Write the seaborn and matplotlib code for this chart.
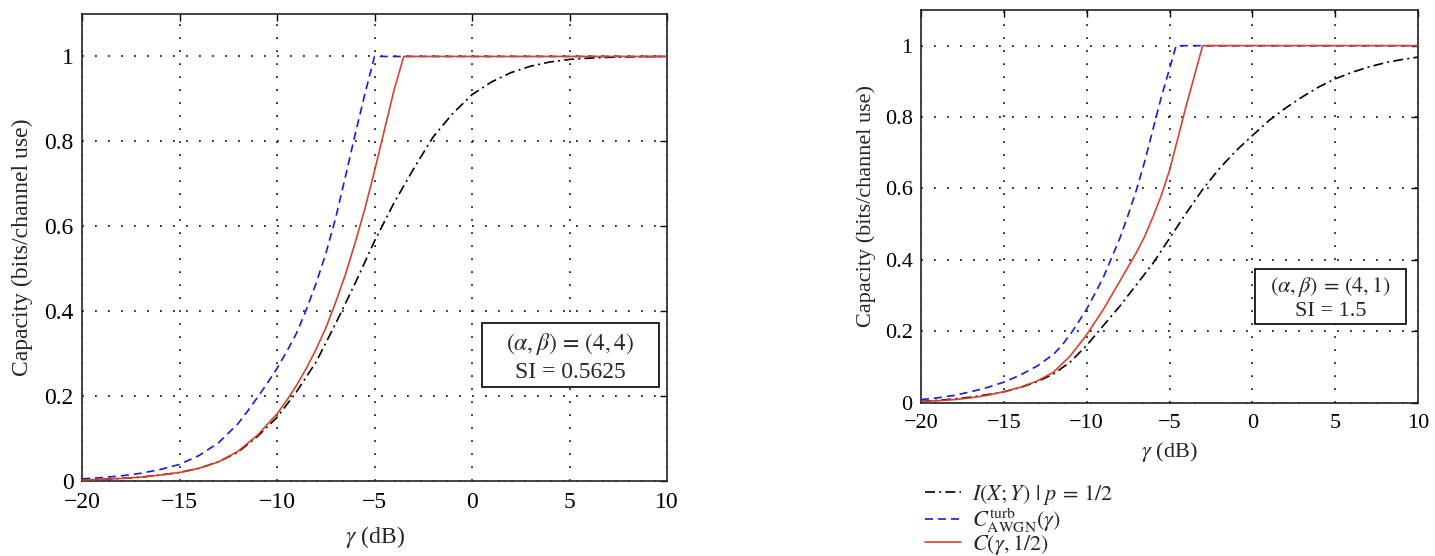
import numpy as np
import pandas as pd
import matplotlib
matplotlib.use('Agg')
import matplotlib.pyplot as plt
from matplotlib.patches import Rectangle
import seaborn as sns

sns.set_theme(style='white')
plt.rcParams['font.family'] = ['Liberation Serif', 'DejaVu Serif']
plt.rcParams['mathtext.fontset'] = 'stix'
plt.rcParams['axes.unicode_minus'] = True

# ---- left panel: (alpha, beta) = (4, 4) ----
left_mi_x = [-20, -19, -18, -17, -16, -15, -14, -13, -12, -11, -10, -9, -8, -7, -6, -5, -4, -3, -2, -1,
             0, 1, 2, 3, 4, 5, 6, 7, 8, 10]
left_mi_y = [0.002, 0.004, 0.006, 0.009, 0.014, 0.02, 0.03, 0.045, 0.068, 0.105, 0.15, 0.21, 0.28, 0.37,
             0.465, 0.565, 0.655, 0.735, 0.81, 0.865, 0.91, 0.94, 0.962, 0.977, 0.987, 0.993, 0.996,
             0.998, 0.999, 1.0]
left_awgn_x = [-20, -19, -18, -17, -16, -15, -14, -13, -12, -11.5, -11, -10.5, -10, -9.5, -9, -8.5, -8,
               -7.5, -7, -6.5, -6, -5.5, -5, 10]
left_awgn_y = [0.005, 0.008, 0.012, 0.018, 0.027, 0.039, 0.06, 0.09, 0.135, 0.165, 0.197, 0.23, 0.265,
               0.305, 0.348, 0.403, 0.465, 0.535, 0.618, 0.715, 0.815, 0.91, 1.0, 1.0]
left_cap_x = [-20, -19, -18, -17, -16, -15, -14, -13, -12, -11, -10, -9.5, -9, -8.5, -8, -7.5, -7, -6.5,
              -6, -5.5, -5, -4.5, -4, -3.5, 10]
left_cap_y = [0.002, 0.004, 0.006, 0.009, 0.014, 0.02, 0.03, 0.045, 0.07, 0.108, 0.158, 0.19, 0.225,
              0.265, 0.31, 0.36, 0.42, 0.485, 0.56, 0.64, 0.73, 0.825, 0.92, 1.0, 1.0]

# ---- right panel: (alpha, beta) = (4, 1) ----
right_mi_x = [-20, -19, -18, -17, -16, -15, -14, -13, -12, -11, -10, -9, -8, -7, -6, -5, -4, -3, -2, -1,
              0, 1, 2, 3, 4, 5, 6, 7, 8, 9, 10]
right_mi_y = [0.003, 0.006, 0.01, 0.015, 0.022, 0.03, 0.042, 0.058, 0.08, 0.113, 0.16, 0.215, 0.27, 0.33,
              0.39, 0.46, 0.53, 0.597, 0.655, 0.705, 0.748, 0.79, 0.825, 0.856, 0.884, 0.907, 0.925,
              0.94, 0.952, 0.961, 0.968]
right_awgn_x = [-20, -19, -18, -17, -16, -15, -14, -13, -12, -11.5, -11, -10.5, -10, -9.5, -9, -8.5, -8,
                -7.5, -7, -6.5, -6, -5.5, -5, -4.6, 10]
right_awgn_y = [0.008, 0.013, 0.02, 0.03, 0.042, 0.057, 0.077, 0.102, 0.135, 0.16, 0.19, 0.225, 0.262,
                0.305, 0.35, 0.405, 0.46, 0.525, 0.595, 0.675, 0.765, 0.855, 0.935, 1.0, 1.0]
right_cap_x = [-20, -19, -18, -17, -16, -15, -14, -13, -12, -11, -10, -9.5, -9, -8.5, -8, -7.5, -7, -6.5,
               -6, -5.5, -5, -4.5, -4, -3.5, -3, 10]
right_cap_y = [0.003, 0.005, 0.008, 0.013, 0.02, 0.03, 0.043, 0.06, 0.085, 0.13, 0.19, 0.225, 0.26, 0.3,
               0.34, 0.38, 0.42, 0.465, 0.52, 0.58, 0.65, 0.74, 0.83, 0.915, 1.0, 1.0]

x_ticks = [-20, -15, -10, -5, 0, 5, 10]
y_ticks = [0, 0.2, 0.4, 0.6, 0.8, 1]
y_ticklabels = ['0', '0.2', '0.4', '0.6', '0.8', '1']

legend_labels = [r'$I(X;Y)\ |\ p\,=\,1/2$',
                 r'$C^{\mathrm{turb}}_{\mathrm{AWGN}}(\gamma)$',
                 r'$C(\gamma, 1/2)$']

RED = '#d8432c'
BLUE = '#1a1adf'
LW = 1.2
DASH = (0, (4.8, 3))
DASHDOT = (0, (6, 2.5, 1.2, 2.5))

fig = plt.figure(figsize=(14.35, 5.56), dpi=100)
ax1 = fig.add_axes([82 / 1435, 75 / 556, 585 / 1435, 467 / 556])
ax2 = fig.add_axes([921 / 1435, 153.5 / 556, 497 / 1435, 392.5 / 556])


def draw_panel(ax, mi, awgn, cap, box, lines, fs):
    sns.lineplot(x=mi[0], y=mi[1], ax=ax, color='black', lw=LW, linestyle=DASHDOT,
                 label=legend_labels[0], zorder=3)
    sns.lineplot(x=awgn[0], y=awgn[1], ax=ax, color=BLUE, lw=LW, linestyle=DASH,
                 label=legend_labels[1], zorder=4)
    sns.lineplot(x=cap[0], y=cap[1], ax=ax, color=RED, lw=LW,
                 label=legend_labels[2], zorder=5)
    ax.set_xlim(-20, 10)
    ax.set_ylim(0, 1.1)
    ax.set_xticks(x_ticks)
    ax.set_yticks(y_ticks)
    ax.set_yticklabels(y_ticklabels)
    ax.grid(True, color='#222222', linestyle=(0, (1, 6.2)), linewidth=1.3)
    ax.tick_params(direction='in', length=5, width=1, top=True, right=True,
                   labelsize=fs, colors='black', pad=6)
    ax.tick_params(axis='x', pad=8)
    for s in ax.spines.values():
        s.set_color('#222222')
        s.set_linewidth(1.2)
    ax.set_xlabel(r'$\gamma$ (dB)', fontsize=fs)
    ax.set_ylabel('Capacity (bits/channel use)', fontsize=fs)
    x0, x1, y0, y1 = box
    ax.add_patch(Rectangle((x0, y0), x1 - x0, y1 - y0, facecolor='white',
                           edgecolor='black', lw=1.2, zorder=6))
    xc = (x0 + x1) / 2
    ax.text(xc, lines[0], lines[2], ha='center', va='center', fontsize=fs, zorder=7)
    ax.text(xc, lines[1], lines[3], ha='center', va='center', fontsize=fs, zorder=7)
    ax.get_legend().remove()


draw_panel(ax1, (left_mi_x, left_mi_y), (left_awgn_x, left_awgn_y), (left_cap_x, left_cap_y),
           (0.5, 9.6, 0.221, 0.372),
           (0.322, 0.256, r'$(\alpha,\beta)\,=\,(4,4)$', 'SI = 0.5625'), 17)
draw_panel(ax2, (right_mi_x, right_mi_y), (right_awgn_x, right_awgn_y), (right_cap_x, right_cap_y),
           (0.18, 9.28, 0.22, 0.373),
           (0.324, 0.256, r'$(\alpha,\beta)\,=\,(4,1)$', 'SI = 1.5'), 16)

ax1.xaxis.labelpad = 8
ax1.yaxis.labelpad = 8
ax2.xaxis.labelpad = 5
ax2.yaxis.labelpad = 6

handles, labels = ax2.get_legend_handles_labels()
fig.legend(handles, labels, loc='upper left', bbox_to_anchor=(914 / 1435, 84 / 556),
           frameon=False, fontsize=16, handlelength=1.6, handletextpad=0.5,
           labelspacing=-0.08, borderpad=0)

fig.savefig('out.png', dpi=100)
